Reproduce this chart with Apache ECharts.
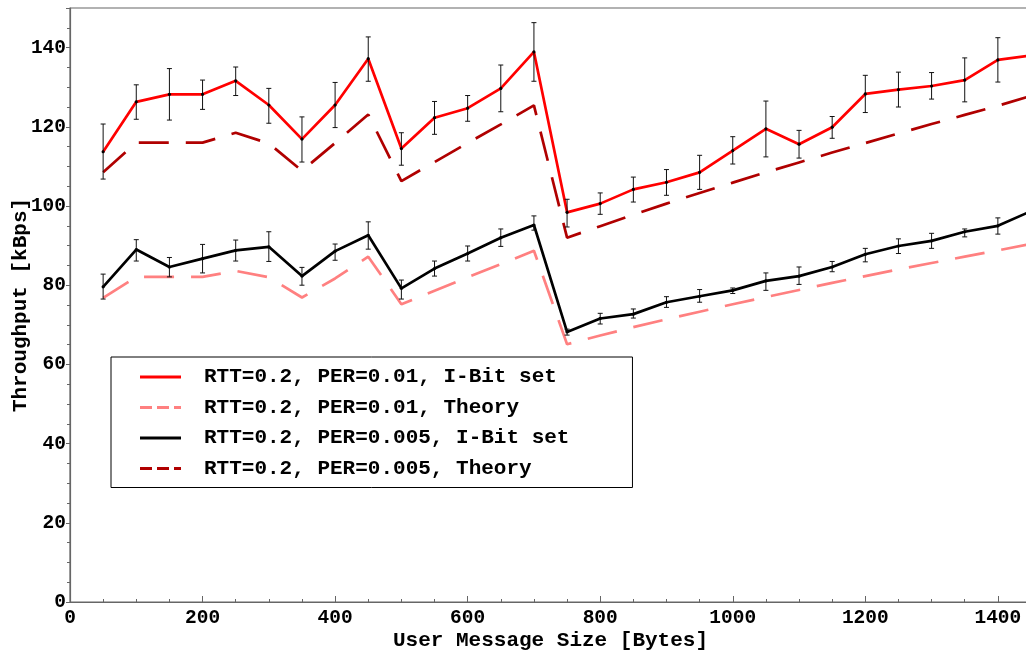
<!DOCTYPE html>
<html>
<head>
<meta charset="utf-8">
<script src="https://cdn.jsdelivr.net/npm/echarts@6/dist/echarts.min.js"></script>
<style>
  html, body { margin: 0; padding: 0; background: #fff; }
  #chart { width: 1026px; height: 652px; }
</style>
</head>
<body>
<div id="chart"></div>
<script>
// Message sizes (bytes)
const sizes = [50,100,150,200,250,300,350,400,450,500,550,600,650,700,750,800,850,900,950,1000,1050,1100,1150,1200,1250,1300,1350,1400,1450];

// RTT=0.2, PER=0.01, I-Bit set (measured mean, kBps)
const per01Measured = [113.7,126.3,128.2,128.2,131.6,125.5,116.9,125.5,137.2,114.5,122.3,124.7,129.7,138.9,98.4,100.6,104.2,106.0,108.5,114.0,119.5,115.6,119.9,128.3,129.4,130.3,131.8,136.9,138.0];
const per01Low  = [106.8,121.9,121.7,124.4,127.9,120.9,111.1,119.8,131.5,110.3,118.1,121.4,123.8,131.5,94.7,97.9,101.0,102.7,104.2,110.6,112.4,112.1,117.1,123.6,125.0,127.0,126.3,131.3];
const per01High = [120.7,130.6,134.7,131.8,135.1,129.7,122.5,131.2,142.7,118.5,126.4,127.9,135.6,146.3,101.7,103.3,107.3,109.2,112.8,117.5,126.5,119.1,122.6,133.0,133.8,133.7,137.4,142.5];

// RTT=0.2, PER=0.01, Theory
const per01Theory = [76.8,82.1,82.1,82.1,83.6,82.0,76.9,81.7,87.2,75.2,78.6,82.0,85.3,88.7,65.1,67.3,69.4,71.4,73.3,75.2,77.0,78.8,80.6,82.3,84.0,85.6,87.2,88.8,90.4];

// RTT=0.2, PER=0.005, I-Bit set (measured mean, kBps)
const per005Measured = [79.6,89.0,84.6,86.7,88.8,89.7,82.3,88.6,92.6,79.2,84.2,88.0,92.0,95.2,68.2,71.6,72.7,75.7,77.2,78.7,81.1,82.3,84.6,87.8,89.9,91.2,93.5,95.0,98.7];
const per005Low  = [76.5,86.1,82.1,83.1,86.1,86.0,80.0,86.3,89.1,76.5,82.3,86.1,89.8,93.9,67.4,70.2,71.7,74.4,75.7,77.9,78.7,80.2,83.4,85.9,88.0,89.3,92.2,92.9];
const per005High = [82.8,91.5,87.0,90.3,91.4,93.5,84.5,90.4,96.0,81.3,86.1,89.9,94.2,97.5,68.9,72.9,74.0,77.1,78.9,79.3,83.1,84.6,86.0,89.3,91.7,93.1,94.2,97.0];

// RTT=0.2, PER=0.005, Theory
const per005Theory = [108.5,116.0,116.0,116.0,118.5,115.8,108.9,115.9,123.1,106.3,111.1,115.9,120.6,125.4,92.0,94.9,97.8,100.6,103.3,105.9,108.5,111.0,113.5,115.9,118.3,120.7,123.0,125.3,127.8];

const seriesNames = [
  'RTT=0.2, PER=0.01, I-Bit set',
  'RTT=0.2, PER=0.01, Theory',
  'RTT=0.2, PER=0.005, I-Bit set',
  'RTT=0.2, PER=0.005, Theory'
];

const FONT = '"Liberation Mono", "Courier New", monospace';
const DASH = [30, 17];
// three short bars for the dashed legend keys
const dashedIcon = 'path://M0,0h12v3H0z M17,0h12v3H17z M34,0h7v3H34z';

const pairs = (ys) => sizes.map((x, i) => [x, ys[i]]);
const errRows = (mean, lo, hi) => lo.map((l, i) => [sizes[i], l, hi[i], mean[i]]);
const plainNumber = (v) => String(v);

// Error bar with caps and a small dot at the mean
function renderErrorBar(params, api) {
  const x = api.value(0);
  const pLo = api.coord([x, api.value(1)]);
  const pHi = api.coord([x, api.value(2)]);
  const pMid = api.coord([x, api.value(3)]);
  const cap = 2.5;
  const st = { stroke: '#111', lineWidth: 1 };
  return {
    type: 'group',
    children: [
      { type: 'line', shape: { x1: pLo[0], y1: pLo[1], x2: pHi[0], y2: pHi[1] }, style: st },
      { type: 'line', shape: { x1: pLo[0] - cap, y1: pLo[1], x2: pLo[0] + cap, y2: pLo[1] }, style: st },
      { type: 'line', shape: { x1: pHi[0] - cap, y1: pHi[1], x2: pHi[0] + cap, y2: pHi[1] }, style: st },
      { type: 'circle', shape: { cx: pMid[0], cy: pMid[1], r: 1.6 }, style: { fill: '#000' } }
    ]
  };
}

const legendKey = (name, icon, color) => ({
  name, icon,
  itemStyle: { color, borderWidth: 0, opacity: 1 },
  lineStyle: { width: 0 }
});

const chart = echarts.init(document.getElementById('chart'), null, { renderer: 'canvas' });

chart.setOption({
  animation: false,
  backgroundColor: '#fff',
  grid: {
    left: 70, top: 8, right: -5, bottom: 50,
    outerBoundsMode: 'none', containLabel: false,
    show: true, borderColor: '#666', borderWidth: 1.2, backgroundColor: 'transparent'
  },
  xAxis: {
    type: 'value', min: 0, max: 1450, interval: 200,
    name: 'User Message Size [Bytes]', nameLocation: 'middle', nameGap: 28, nameMoveOverlap: false,
    nameTextStyle: { fontFamily: FONT, fontWeight: 'bold', fontSize: 21, color: '#000' },
    axisLine: { show: true, lineStyle: { color: '#666', width: 1.2 } },
    axisTick: { show: true, inside: true, length: 6, lineStyle: { color: '#666' } },
    minorTick: { show: true, splitNumber: 4, length: 3, lineStyle: { color: '#666' } },
    splitLine: { show: false },
    axisLabel: { fontFamily: FONT, fontWeight: 'bold', fontSize: 19.5, color: '#000', margin: 6, showMaxLabel: false, formatter: plainNumber }
  },
  yAxis: {
    type: 'value', min: 0, max: 150, interval: 20,
    name: 'Throughput [kBps]', nameLocation: 'middle', nameGap: 39, nameRotate: 90, nameMoveOverlap: false,
    nameTextStyle: { fontFamily: FONT, fontWeight: 'bold', fontSize: 21, color: '#000' },
    axisLine: { show: true, lineStyle: { color: '#666', width: 1.2 } },
    axisTick: { show: true, inside: false, length: 4, lineStyle: { color: '#666' } },
    minorTick: { show: true, splitNumber: 4, length: 3, lineStyle: { color: '#666' } },
    splitLine: { show: false },
    axisLabel: { fontFamily: FONT, fontWeight: 'bold', fontSize: 19.5, color: '#000', margin: 4, showMaxLabel: false, formatter: plainNumber }
  },
  legend: {
    orient: 'vertical', left: 111, top: 357,
    padding: [9.5, 63, 8.5, 29],
    itemGap: 9.5, itemWidth: 41, itemHeight: 3,
    symbolKeepAspect: false,
    borderColor: '#000', borderWidth: 1, backgroundColor: '#fff',
    selectedMode: false,
    textStyle: { fontFamily: FONT, fontWeight: 'bold', fontSize: 21, color: '#000', padding: [0, 0, 0, 18] },
    data: [
      legendKey(seriesNames[0], 'rect', '#ff0000'),
      legendKey(seriesNames[1], dashedIcon, '#ff8080'),
      legendKey(seriesNames[2], 'rect', '#000000'),
      legendKey(seriesNames[3], dashedIcon, '#b00000')
    ]
  },
  series: [
    {
      name: seriesNames[3], type: 'line', data: pairs(per005Theory), showSymbol: false,
      color: '#b00000', lineStyle: { color: '#b00000', width: 2.7, type: DASH }, z: 2
    },
    {
      name: seriesNames[1], type: 'line', data: pairs(per01Theory), showSymbol: false,
      color: '#ff8080', lineStyle: { color: '#ff8080', width: 2.7, type: DASH }, z: 2
    },
    {
      name: seriesNames[0], type: 'line', data: pairs(per01Measured), showSymbol: false,
      color: '#ff0000', lineStyle: { color: '#ff0000', width: 2.7 }, z: 3
    },
    {
      name: seriesNames[2], type: 'line', data: pairs(per005Measured), showSymbol: false,
      color: '#000000', lineStyle: { color: '#000000', width: 2.7 }, z: 3
    },
    {
      type: 'custom', renderItem: renderErrorBar, data: errRows(per01Measured, per01Low, per01High),
      encode: { x: 0, y: [1, 2] }, z: 5, clip: true
    },
    {
      type: 'custom', renderItem: renderErrorBar, data: errRows(per005Measured, per005Low, per005High),
      encode: { x: 0, y: [1, 2] }, z: 5, clip: true
    }
  ]
});
</script>
</body>
</html>
